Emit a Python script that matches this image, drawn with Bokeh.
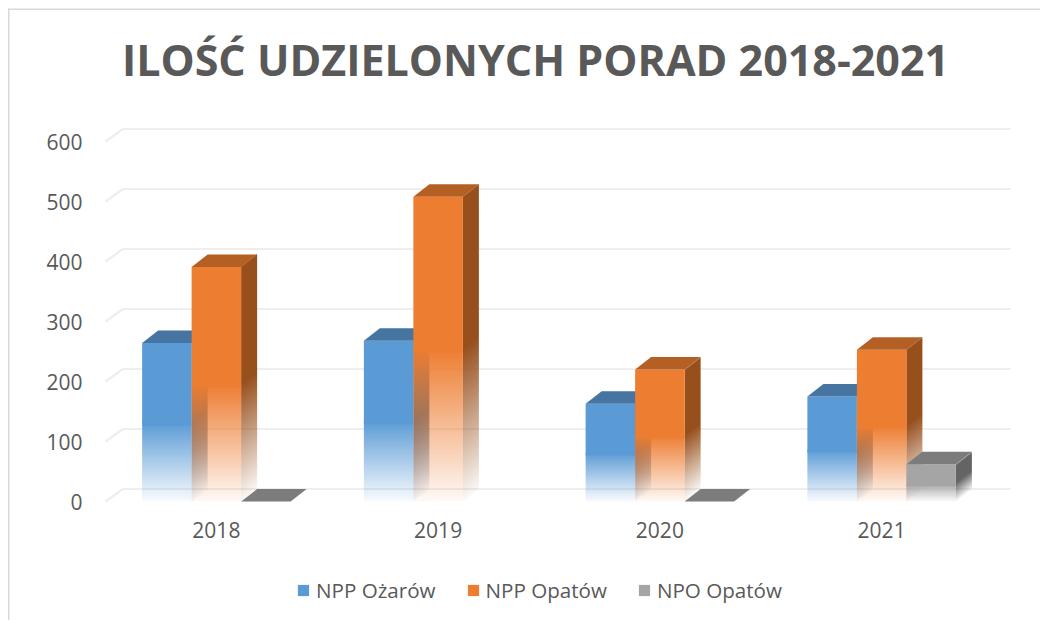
import numpy as np
from bokeh.plotting import figure
from bokeh.embed import file_html
from bokeh.resources import INLINE
from bokeh.models import Label, Legend, LegendItem, FixedTicker, BoxAnnotation

title_text = "ILOŚĆ UDZIELONYCH PORAD 2018-2021"
years = ["2018", "2019", "2020", "2021"]
npp_ozarow = [264, 268, 163, 175]
npp_opatow = [391, 508, 220, 253]
npo_opatow = [0, None, 0, 62]
y_ticks = [0, 100, 200, 300, 400, 500, 600]
series_names = ["NPP Ożarów", "NPP Opatów", "NPO Opatów"]
front_colors = ["#5B9BD5", "#ED7D31", "#A5A5A5"]
top_colors = ["#4575A0", "#B46024", "#7C7C7C"]
side_colors = ["#3B6A94", "#974F1C", "#646464"]

W, H = 1040, 620
AX_LEFT, AX_BASE = 105, 501   # canvas px of the front left corner of the plot
PX_X = 221.75      # px per category
PX_Y = 0.6         # px per value unit
BAR_PX, DX_PX, DY_PX = 49.5, 16, 12.5
BAR, DX, DY = BAR_PX / PX_X, DX_PX / PX_X, DY_PX / PX_Y
GRID_DX = 17.5 / PX_X

x_start = -0.5 - AX_LEFT / PX_X
x_end = x_start + W / PX_X
y_start = -(H - AX_BASE) / PX_Y
y_end = AX_BASE / PX_Y
grid_right = -0.5 + (1010 - AX_LEFT) / PX_X

p = figure(width=W, height=H, output_backend="svg", toolbar_location=None,
           x_range=(x_start, x_end), y_range=(y_start, y_end),
           min_border_left=0, min_border_right=0, min_border_top=0, min_border_bottom=0,
           outline_line_color=None, background_fill_color=None, border_fill_color=None)
p.xgrid.visible = False
p.ygrid.visible = False

for ax in (p.xaxis[0], p.yaxis[0]):
    ax.axis_line_color = None
    ax.major_tick_line_color = None
    ax.minor_tick_line_color = None
    ax.major_tick_out = 0
    ax.major_tick_in = 0
    ax.minor_tick_out = 0
    ax.major_label_text_font = "Open Sans"
    ax.major_label_text_font_size = "21px"
    ax.major_label_text_color = "#595959"
p.xaxis[0].ticker = FixedTicker(ticks=list(range(len(years))))
p.xaxis[0].major_label_overrides = {i: y for i, y in enumerate(years)}
p.xaxis[0].major_label_standoff = 20
p.xaxis[0].fixed_location = 0
p.yaxis[0].ticker = FixedTicker(ticks=y_ticks)
p.yaxis[0].major_label_standoff = 23
p.yaxis[0].fixed_location = -0.5

p.add_layout(Label(x=x_start + 535 / PX_X, y=(AX_BASE - 59) / PX_Y, text=title_text,
                   text_align="center", text_baseline="alphabetic",
                   text_font="Open Sans", text_font_style="bold",
                   text_font_size="43px", text_color="#595959"))

# back wall grid with its short diagonal on the floor side
p.multi_line(xs=[[-0.5, -0.5 + GRID_DX, grid_right] for _ in y_ticks],
             ys=[[v, v + DY, v + DY] for v in y_ticks],
             line_color="#EEEEEE", line_width=2.2)


def rgba(hex_color, alpha):
    r, g, b = (int(hex_color[i:i + 2], 16) for i in (1, 3, 5))
    a = np.clip(alpha * 255, 0, 255).astype(np.uint32)
    return (a << 24) | (b << 16) | (g << 8) | r


def fade(f):
    """alpha of a face at fraction f of its height, from the base up"""
    return np.clip(0.04 + 0.96 * f / 0.5, 0, 1)


legend_items = []
for s, vals in enumerate([npp_ozarow, npp_opatow, npo_opatow]):
    solid = dict(xs=[], ys=[])
    top = dict(xs=[], ys=[])
    for g, v in enumerate(vals):
        if v is None:
            continue
        x0 = g + (s - 1.5) * BAR
        x1 = x0 + BAR
        top["xs"].append([x0, x1, x1 + DX, x0 + DX])
        top["ys"].append([v, v, v + DY, v + DY])
        if v <= 0:
            continue
        h_px = int(round(v * PX_Y))
        # side face: a sheared gradient, with soft edges along the shear
        rows, cols = h_px + int(np.ceil(DY_PX)), DX_PX
        yy, xx = np.mgrid[0:rows, 0:cols]
        rise = (yy + 0.5) - (xx + 0.5) * DY_PX / DX_PX
        cover = np.clip(rise + 0.5, 0, 1) * np.clip(h_px - rise + 0.5, 0, 1)
        img = rgba(side_colors[s], fade(rise / h_px) * cover)
        p.image_rgba(image=[img], x=x1, y=0, dw=DX, dh=rows / PX_Y)
        # front face: solid upper part over a fading lower half, overlapping
        # where the fade is still nearly opaque so that no seam shows
        half = h_px // 2
        fr_img = rgba(front_colors[s], fade((np.arange(half)[:, None] + 0.5) / h_px)
                      * np.ones((half, int(round(BAR_PX)))))
        p.image_rgba(image=[fr_img], x=x0, y=0, dw=BAR, dh=half / PX_Y)
        low = (half - 3) / PX_Y
        solid["xs"].append([x0, x1, x1, x0])
        solid["ys"].append([low, low, v, v])
    fr = p.patches("xs", "ys", source=solid, fill_color=front_colors[s], line_color=None)
    p.patches("xs", "ys", source=top, fill_color=top_colors[s], line_color=None)
    legend_items.append(LegendItem(label=series_names[s], renderers=[fr]))

legend = Legend(items=legend_items, orientation="horizontal", location=(296, 16),
                background_fill_alpha=0, border_line_color=None, padding=0, margin=0,
                glyph_width=14, glyph_height=14, label_standoff=6, spacing=30,
                label_text_font="Open Sans", label_text_font_size="20.6px",
                label_text_color="#595959")
p.add_layout(legend, "center")


def screen_box(left, right, top, bottom, color, alpha):
    # box units on screen run upward from the bottom of the canvas
    p.add_layout(BoxAnnotation(left=left, right=right, top=H - top, bottom=H - bottom,
                               left_units="screen", right_units="screen",
                               top_units="screen", bottom_units="screen",
                               fill_color=color, fill_alpha=alpha, line_alpha=0, level="overlay"))


# fading lower part of the legend keys and the chart's own left/top border
for sw in (296, 466, 638):
    for k, a in enumerate((0.15, 0.35, 0.55, 0.8)):
        screen_box(sw - 1, sw + 15, 590 + 2 * k, 592 + 2 * k, "white", a)
screen_box(7.5, 9, 8, H, "#D9D9D9", 1)
screen_box(7.5, W, 8, 9.5, "#D9D9D9", 1)

open("out.html", "w").write(file_html(p, INLINE))
